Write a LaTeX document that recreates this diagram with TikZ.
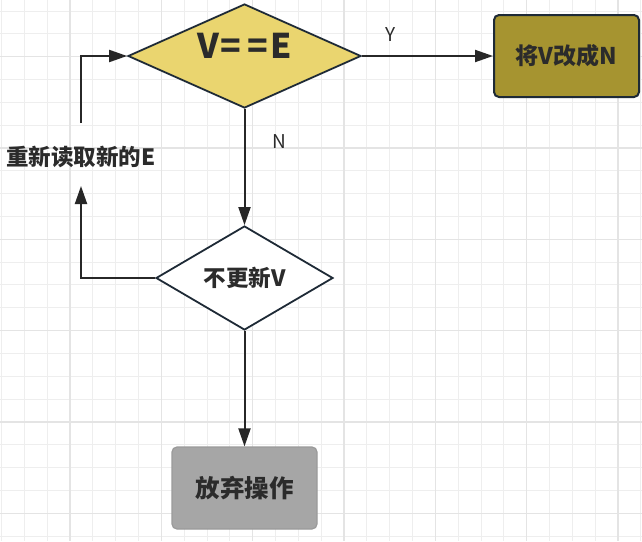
\documentclass[tikz,border=0pt]{standalone}
\usepackage{fontspec}
\setmainfont{Noto Sans CJK SC}
\usetikzlibrary{shapes.geometric,arrows.meta}
\definecolor{gridminor}{HTML}{EEEEEE}
\definecolor{gridmajor}{HTML}{E4E4E4}
\definecolor{inkdark}{HTML}{1E2A36}
\definecolor{txt}{HTML}{2B2B2B}
\definecolor{yellowfill}{HTML}{EAD56F}
\definecolor{olivefill}{HTML}{A69430}
\definecolor{grayfill}{HTML}{A6A6A6}
\definecolor{grayborder}{HTML}{9A9A9A}
\tikzset{
  minorline/.style={draw=gridminor,line width=1pt},
  majorline/.style={draw=gridmajor,line width=1.5pt},
  dia/.style={diamond,draw=inkdark,line width=1.8pt,inner sep=0pt,minimum width=233pt,minimum height=104pt,aspect=2.24},
  boxnode/.style={rectangle,rounded corners=5pt,minimum width=145pt,minimum height=82pt,inner sep=0pt,text=txt,font=\bfseries\fontsize{23}{27}\selectfont},
  conn/.style={draw=txt!90!black,line width=2pt,-{Triangle[length=18pt,width=12pt]}},
  lab/.style={text=txt,font=\fontsize{19}{22}\selectfont,inner sep=0pt},
}
\begin{document}
\begin{tikzpicture}[x=1pt,y=-1pt]
\useasboundingbox (0,0) rectangle (642,541);
\fill[white] (0,0) rectangle (642,541);
% grid
\foreach \k in {0,...,28}{
  \pgfmathsetmacro\xx{1.6+22.83*\k}
  \draw[minorline] (\xx,0) -- (\xx,541);
}
\foreach \k in {0,...,23}{
  \pgfmathsetmacro\yy{11+22.83*\k}
  \draw[minorline] (0,\yy) -- (642,\yy);
}
\foreach \k in {3,7,...,27}{
  \pgfmathsetmacro\xx{1.6+22.83*\k}
  \draw[majorline] (\xx,0) -- (\xx,541);
}
\foreach \k in {2,6,...,22}{
  \pgfmathsetmacro\yy{11+22.83*\k}
  \draw[majorline] (0,\yy) -- (642,\yy);
}
% nodes
\node[dia,fill=yellowfill] (d1) at (244.5,56) {};
\node[text=txt,font=\bfseries\fontsize{34}{40}\selectfont,inner sep=0pt] (t1) at ([yshift=10pt]d1.center) {V\kern2pt=\kern6pt=\kern2pt E};
\node[dia,fill=white,minimum width=177pt,aspect=1.70] (d2) at (244.5,278) {};
\node[text=txt,font=\bfseries\fontsize{22.5}{27}\selectfont,inner sep=0pt] (t2) at (d2.center) {不更新V};
\node[boxnode,fill=olivefill,draw=inkdark,line width=2pt] (b1) at (566.5,56) {将V改成N};
\node[boxnode,fill=grayfill,draw=grayborder,line width=1.2pt,font=\bfseries\fontsize{24.5}{29}\selectfont] (b2) at (244.5,488) {放弃操作};
\node[text=txt,font=\bfseries\fontsize{22.5}{27}\selectfont,inner sep=0pt] (lbl) at (81,157) {重新读取新的E};
\node[lab] (ly) at (391,35) {Y};
\node[lab] (ln) at (279.5,142) {N};
\coordinate (cbl) at (81,278);
\coordinate (ctip) at (81,186);
\coordinate (ctop) at (81,123);
\coordinate (ctl) at (81,56);
% connectors
\draw[conn] (d1.east) -- (b1.west);
\draw[conn] (d1.south) -- (d2.north);
\draw[conn] (d2.south) -- (b2.north);
\draw[conn] (d2.west) -- (cbl) -- (ctip);
\draw[conn] (ctop) -- (ctl) -- (d1.west);
\end{tikzpicture}
\end{document}
